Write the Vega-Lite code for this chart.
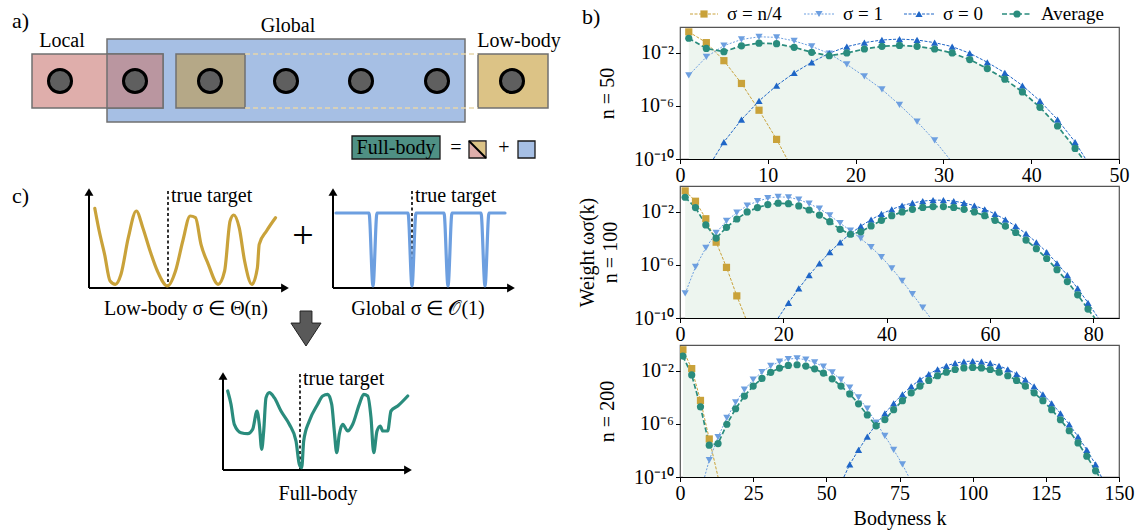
{
"$schema":"https://vega.github.io/schema/vega-lite/v6.json",
"padding":0,
"background":"white",
"spacing":27,
"bounds":"flush",
"config":{
 "font":"Liberation Serif",
 "view":{"stroke":"#555555","strokeWidth":1.2},
 "axis":{"labelFont":"Liberation Serif","titleFont":"Liberation Serif","labelFontSize":20,"titleFontSize":20,"titleFontWeight":"normal","labelColor":"#000","titleColor":"#000","tickColor":"#000","domainColor":"#000","grid":false,"tickSize":4.5,"labelPadding":2,"titleLineHeight":23},
 "text":{"font":"Liberation Serif"}
},
"datasets":{
 "p50":[
  {"s":"n4","k":1,"lw":-0.41,"m":1},{"s":"n4","k":3,"lw":-1.22,"m":1},{"s":"n4","k":5,"lw":-2.58,"m":1},{"s":"n4","k":7,"lw":-4.3,"m":1},{"s":"n4","k":9,"lw":-6.32,"m":1},{"s":"n4","k":11,"lw":-8.52,"m":1},{"s":"n4","k":12.2,"lw":-10,"m":0},
  {"s":"s1","k":1,"lw":-3.69,"m":1},{"s":"s1","k":3,"lw":-2.3,"m":1},{"s":"s1","k":5,"lw":-1.45,"m":1},{"s":"s1","k":7,"lw":-0.98,"m":1},{"s":"s1","k":9,"lw":-0.78,"m":1},{"s":"s1","k":11,"lw":-0.82,"m":1},{"s":"s1","k":13,"lw":-1.09,"m":1},{"s":"s1","k":15,"lw":-1.5,"m":1},{"s":"s1","k":17,"lw":-2.05,"m":1},{"s":"s1","k":19,"lw":-2.86,"m":1},{"s":"s1","k":21,"lw":-3.77,"m":1},{"s":"s1","k":23,"lw":-4.75,"m":1},{"s":"s1","k":25,"lw":-5.91,"m":1},{"s":"s1","k":27,"lw":-7.18,"m":1},{"s":"s1","k":29,"lw":-8.6,"m":1},{"s":"s1","k":30.7,"lw":-10,"m":0},
  {"s":"s0","k":3.8,"lw":-10,"m":0},{"s":"s0","k":5,"lw":-8.72,"m":1},{"s":"s0","k":7,"lw":-7.03,"m":1},{"s":"s0","k":9,"lw":-5.62,"m":1},{"s":"s0","k":11,"lw":-4.46,"m":1},{"s":"s0","k":13,"lw":-3.5,"m":1},{"s":"s0","k":15,"lw":-2.7,"m":1},{"s":"s0","k":17,"lw":-2.02,"m":1},{"s":"s0","k":19,"lw":-1.52,"m":1},{"s":"s0","k":21,"lw":-1.22,"m":1},{"s":"s0","k":23,"lw":-1.02,"m":1},{"s":"s0","k":25,"lw":-0.95,"m":1},{"s":"s0","k":27,"lw":-1.02,"m":1},{"s":"s0","k":29,"lw":-1.22,"m":1},{"s":"s0","k":31,"lw":-1.52,"m":1},{"s":"s0","k":33,"lw":-2.02,"m":1},{"s":"s0","k":35,"lw":-2.7,"m":1},{"s":"s0","k":37,"lw":-3.5,"m":1},{"s":"s0","k":39,"lw":-4.46,"m":1},{"s":"s0","k":41,"lw":-5.62,"m":1},{"s":"s0","k":43,"lw":-7.03,"m":1},{"s":"s0","k":45,"lw":-8.72,"m":1},{"s":"s0","k":46.2,"lw":-10,"m":0},
  {"s":"avg","k":1,"lw":-0.89,"m":1},{"s":"avg","k":3,"lw":-1.66,"m":1},{"s":"avg","k":5,"lw":-1.9,"m":1},{"s":"avg","k":7,"lw":-1.46,"m":1},{"s":"avg","k":9,"lw":-1.26,"m":1},{"s":"avg","k":11,"lw":-1.3,"m":1},{"s":"avg","k":13,"lw":-1.57,"m":1},{"s":"avg","k":15,"lw":-1.95,"m":1},{"s":"avg","k":17,"lw":-2.21,"m":1},{"s":"avg","k":19,"lw":-2.0,"m":1},{"s":"avg","k":21,"lw":-1.7,"m":1},{"s":"avg","k":23,"lw":-1.5,"m":1},{"s":"avg","k":25,"lw":-1.43,"m":1},{"s":"avg","k":27,"lw":-1.5,"m":1},{"s":"avg","k":29,"lw":-1.7,"m":1},{"s":"avg","k":31,"lw":-2.0,"m":1},{"s":"avg","k":33,"lw":-2.5,"m":1},{"s":"avg","k":35,"lw":-3.18,"m":1},{"s":"avg","k":37,"lw":-3.98,"m":1},{"s":"avg","k":39,"lw":-4.94,"m":1},{"s":"avg","k":41,"lw":-6.1,"m":1},{"s":"avg","k":43,"lw":-7.51,"m":1},{"s":"avg","k":45,"lw":-9.2,"m":1},{"s":"avg","k":45.9,"lw":-10,"m":0}
 ],
 "p100":[
  {"s":"n4","k":1,"lw":-0.41,"m":1},{"s":"n4","k":3,"lw":-1.19,"m":1},{"s":"n4","k":5,"lw":-2.51,"m":1},{"s":"n4","k":7,"lw":-4.28,"m":1},{"s":"n4","k":9,"lw":-6.18,"m":1},{"s":"n4","k":11,"lw":-8.33,"m":1},{"s":"n4","k":12.7,"lw":-10,"m":0},
  {"s":"s1","k":1,"lw":-8.15,"m":1},{"s":"s1","k":3,"lw":-6.15,"m":1},{"s":"s1","k":5,"lw":-4.71,"m":1},{"s":"s1","k":7,"lw":-3.57,"m":1},{"s":"s1","k":9,"lw":-2.68,"m":1},{"s":"s1","k":11,"lw":-2.05,"m":1},{"s":"s1","k":13,"lw":-1.52,"m":1},{"s":"s1","k":15,"lw":-1.19,"m":1},{"s":"s1","k":17,"lw":-0.96,"m":1},{"s":"s1","k":19,"lw":-0.86,"m":1},{"s":"s1","k":21,"lw":-0.89,"m":1},{"s":"s1","k":23,"lw":-1.06,"m":1},{"s":"s1","k":25,"lw":-1.37,"m":1},{"s":"s1","k":27,"lw":-1.75,"m":1},{"s":"s1","k":29,"lw":-2.25,"m":1},{"s":"s1","k":31,"lw":-2.85,"m":1},{"s":"s1","k":33,"lw":-3.4,"m":1},{"s":"s1","k":35,"lw":-4.0,"m":1},{"s":"s1","k":37,"lw":-4.65,"m":1},{"s":"s1","k":39,"lw":-5.4,"m":1},{"s":"s1","k":41,"lw":-6.25,"m":1},{"s":"s1","k":43,"lw":-7.2,"m":1},{"s":"s1","k":45,"lw":-8.2,"m":1},{"s":"s1","k":47,"lw":-9.22,"m":1},{"s":"s1","k":48.5,"lw":-10,"m":0},
  {"s":"s0","k":19,"lw":-10,"m":0},{"s":"s0","k":21,"lw":-8.85,"m":1},{"s":"s0","k":23,"lw":-7.77,"m":1},{"s":"s0","k":25,"lw":-6.77,"m":1},{"s":"s0","k":27,"lw":-5.87,"m":1},{"s":"s0","k":29,"lw":-5.03,"m":1},{"s":"s0","k":31,"lw":-4.29,"m":1},{"s":"s0","k":33,"lw":-3.64,"m":1},{"s":"s0","k":35,"lw":-3.07,"m":1},{"s":"s0","k":37,"lw":-2.58,"m":1},{"s":"s0","k":39,"lw":-2.15,"m":1},{"s":"s0","k":41,"lw":-1.8,"m":1},{"s":"s0","k":43,"lw":-1.52,"m":1},{"s":"s0","k":45,"lw":-1.32,"m":1},{"s":"s0","k":47,"lw":-1.18,"m":1},{"s":"s0","k":49,"lw":-1.11,"m":1},{"s":"s0","k":51,"lw":-1.11,"m":1},{"s":"s0","k":53,"lw":-1.18,"m":1},{"s":"s0","k":55,"lw":-1.32,"m":1},{"s":"s0","k":57,"lw":-1.52,"m":1},{"s":"s0","k":59,"lw":-1.8,"m":1},{"s":"s0","k":61,"lw":-2.15,"m":1},{"s":"s0","k":63,"lw":-2.58,"m":1},{"s":"s0","k":65,"lw":-3.07,"m":1},{"s":"s0","k":67,"lw":-3.64,"m":1},{"s":"s0","k":69,"lw":-4.29,"m":1},{"s":"s0","k":71,"lw":-5.03,"m":1},{"s":"s0","k":73,"lw":-5.87,"m":1},{"s":"s0","k":75,"lw":-6.77,"m":1},{"s":"s0","k":77,"lw":-7.77,"m":1},{"s":"s0","k":79,"lw":-8.85,"m":1},{"s":"s0","k":81,"lw":-10,"m":0},
  {"s":"avg","k":1,"lw":-0.89,"m":1},{"s":"avg","k":3,"lw":-1.67,"m":1},{"s":"avg","k":5,"lw":-2.98,"m":1},{"s":"avg","k":7,"lw":-3.97,"m":1},{"s":"avg","k":9,"lw":-3.16,"m":1},{"s":"avg","k":11,"lw":-2.53,"m":1},{"s":"avg","k":13,"lw":-2.0,"m":1},{"s":"avg","k":15,"lw":-1.67,"m":1},{"s":"avg","k":17,"lw":-1.44,"m":1},{"s":"avg","k":19,"lw":-1.34,"m":1},{"s":"avg","k":21,"lw":-1.37,"m":1},{"s":"avg","k":23,"lw":-1.54,"m":1},{"s":"avg","k":25,"lw":-1.85,"m":1},{"s":"avg","k":27,"lw":-2.23,"m":1},{"s":"avg","k":29,"lw":-2.73,"m":1},{"s":"avg","k":31,"lw":-3.31,"m":1},{"s":"avg","k":33,"lw":-3.68,"m":1},{"s":"avg","k":35,"lw":-3.5,"m":1},{"s":"avg","k":37,"lw":-3.05,"m":1},{"s":"avg","k":39,"lw":-2.63,"m":1},{"s":"avg","k":41,"lw":-2.28,"m":1},{"s":"avg","k":43,"lw":-2.0,"m":1},{"s":"avg","k":45,"lw":-1.8,"m":1},{"s":"avg","k":47,"lw":-1.66,"m":1},{"s":"avg","k":49,"lw":-1.59,"m":1},{"s":"avg","k":51,"lw":-1.59,"m":1},{"s":"avg","k":53,"lw":-1.66,"m":1},{"s":"avg","k":55,"lw":-1.8,"m":1},{"s":"avg","k":57,"lw":-2.0,"m":1},{"s":"avg","k":59,"lw":-2.28,"m":1},{"s":"avg","k":61,"lw":-2.63,"m":1},{"s":"avg","k":63,"lw":-3.06,"m":1},{"s":"avg","k":65,"lw":-3.55,"m":1},{"s":"avg","k":67,"lw":-4.12,"m":1},{"s":"avg","k":69,"lw":-4.77,"m":1},{"s":"avg","k":71,"lw":-5.51,"m":1},{"s":"avg","k":73,"lw":-6.35,"m":1},{"s":"avg","k":75,"lw":-7.25,"m":1},{"s":"avg","k":77,"lw":-8.25,"m":1},{"s":"avg","k":79,"lw":-9.33,"m":1},{"s":"avg","k":80.3,"lw":-10,"m":0}
 ],
 "p200":[
  {"s":"n4","k":1,"lw":-0.4,"m":1},{"s":"n4","k":4,"lw":-1.82,"m":1},{"s":"n4","k":7,"lw":-4.22,"m":1},{"s":"n4","k":10,"lw":-7.13,"m":1},{"s":"n4","k":13,"lw":-10,"m":0},
  {"s":"s1","k":8.4,"lw":-10,"m":0},{"s":"s1","k":10,"lw":-8.72,"m":1},{"s":"s1","k":13,"lw":-7.0,"m":1},{"s":"s1","k":16,"lw":-5.54,"m":1},{"s":"s1","k":19,"lw":-4.37,"m":1},{"s":"s1","k":22,"lw":-3.41,"m":1},{"s":"s1","k":25,"lw":-2.66,"m":1},{"s":"s1","k":28,"lw":-2.08,"m":1},{"s":"s1","k":31,"lw":-1.62,"m":1},{"s":"s1","k":34,"lw":-1.3,"m":1},{"s":"s1","k":37,"lw":-1.1,"m":1},{"s":"s1","k":40,"lw":-1.05,"m":1},{"s":"s1","k":43,"lw":-1.15,"m":1},{"s":"s1","k":46,"lw":-1.36,"m":1},{"s":"s1","k":49,"lw":-1.68,"m":1},{"s":"s1","k":52,"lw":-2.11,"m":1},{"s":"s1","k":55,"lw":-2.66,"m":1},{"s":"s1","k":58,"lw":-3.25,"m":1},{"s":"s1","k":61,"lw":-4.0,"m":1},{"s":"s1","k":64,"lw":-4.85,"m":1},{"s":"s1","k":67,"lw":-5.9,"m":1},{"s":"s1","k":70,"lw":-6.9,"m":1},{"s":"s1","k":73,"lw":-7.95,"m":1},{"s":"s1","k":76,"lw":-9.05,"m":1},{"s":"s1","k":78.2,"lw":-10,"m":0},
  {"s":"s0","k":56,"lw":-10,"m":0},{"s":"s0","k":58,"lw":-9.05,"m":1},{"s":"s0","k":61,"lw":-7.95,"m":1},{"s":"s0","k":64,"lw":-6.95,"m":1},{"s":"s0","k":67,"lw":-6.03,"m":1},{"s":"s0","k":70,"lw":-5.2,"m":1},{"s":"s0","k":73,"lw":-4.44,"m":1},{"s":"s0","k":76,"lw":-3.76,"m":1},{"s":"s0","k":79,"lw":-3.17,"m":1},{"s":"s0","k":82,"lw":-2.66,"m":1},{"s":"s0","k":85,"lw":-2.23,"m":1},{"s":"s0","k":88,"lw":-1.88,"m":1},{"s":"s0","k":91,"lw":-1.61,"m":1},{"s":"s0","k":94,"lw":-1.41,"m":1},{"s":"s0","k":97,"lw":-1.29,"m":1},{"s":"s0","k":100,"lw":-1.25,"m":1},{"s":"s0","k":103,"lw":-1.29,"m":1},{"s":"s0","k":106,"lw":-1.41,"m":1},{"s":"s0","k":109,"lw":-1.61,"m":1},{"s":"s0","k":112,"lw":-1.88,"m":1},{"s":"s0","k":115,"lw":-2.23,"m":1},{"s":"s0","k":118,"lw":-2.66,"m":1},{"s":"s0","k":121,"lw":-3.17,"m":1},{"s":"s0","k":124,"lw":-3.76,"m":1},{"s":"s0","k":127,"lw":-4.44,"m":1},{"s":"s0","k":130,"lw":-5.2,"m":1},{"s":"s0","k":133,"lw":-6.03,"m":1},{"s":"s0","k":136,"lw":-6.95,"m":1},{"s":"s0","k":139,"lw":-7.95,"m":1},{"s":"s0","k":142,"lw":-9.05,"m":1},{"s":"s0","k":144,"lw":-10,"m":0},
  {"s":"avg","k":1,"lw":-0.88,"m":1},{"s":"avg","k":4,"lw":-2.3,"m":1},{"s":"avg","k":7,"lw":-4.7,"m":1},{"s":"avg","k":10,"lw":-7.6,"m":1},{"s":"avg","k":13,"lw":-7.48,"m":1},{"s":"avg","k":16,"lw":-6.02,"m":1},{"s":"avg","k":19,"lw":-4.85,"m":1},{"s":"avg","k":22,"lw":-3.89,"m":1},{"s":"avg","k":25,"lw":-3.14,"m":1},{"s":"avg","k":28,"lw":-2.56,"m":1},{"s":"avg","k":31,"lw":-2.1,"m":1},{"s":"avg","k":34,"lw":-1.78,"m":1},{"s":"avg","k":37,"lw":-1.58,"m":1},{"s":"avg","k":40,"lw":-1.53,"m":1},{"s":"avg","k":43,"lw":-1.63,"m":1},{"s":"avg","k":46,"lw":-1.84,"m":1},{"s":"avg","k":49,"lw":-2.16,"m":1},{"s":"avg","k":52,"lw":-2.59,"m":1},{"s":"avg","k":55,"lw":-3.14,"m":1},{"s":"avg","k":58,"lw":-3.73,"m":1},{"s":"avg","k":61,"lw":-4.48,"m":1},{"s":"avg","k":64,"lw":-5.32,"m":1},{"s":"avg","k":67,"lw":-6.14,"m":1},{"s":"avg","k":70,"lw":-5.67,"m":1},{"s":"avg","k":73,"lw":-4.92,"m":1},{"s":"avg","k":76,"lw":-4.24,"m":1},{"s":"avg","k":79,"lw":-3.65,"m":1},{"s":"avg","k":82,"lw":-3.14,"m":1},{"s":"avg","k":85,"lw":-2.71,"m":1},{"s":"avg","k":88,"lw":-2.36,"m":1},{"s":"avg","k":91,"lw":-2.09,"m":1},{"s":"avg","k":94,"lw":-1.89,"m":1},{"s":"avg","k":97,"lw":-1.77,"m":1},{"s":"avg","k":100,"lw":-1.73,"m":1},{"s":"avg","k":103,"lw":-1.77,"m":1},{"s":"avg","k":106,"lw":-1.89,"m":1},{"s":"avg","k":109,"lw":-2.09,"m":1},{"s":"avg","k":112,"lw":-2.36,"m":1},{"s":"avg","k":115,"lw":-2.71,"m":1},{"s":"avg","k":118,"lw":-3.14,"m":1},{"s":"avg","k":121,"lw":-3.65,"m":1},{"s":"avg","k":124,"lw":-4.24,"m":1},{"s":"avg","k":127,"lw":-4.92,"m":1},{"s":"avg","k":130,"lw":-5.68,"m":1},{"s":"avg","k":133,"lw":-6.51,"m":1},{"s":"avg","k":136,"lw":-7.43,"m":1},{"s":"avg","k":139,"lw":-8.43,"m":1},{"s":"avg","k":142,"lw":-9.53,"m":1},{"s":"avg","k":143.4,"lw":-10,"m":0}
 ],
 "rects":[
  {"id":"global","grp":"a","x1":106,"y1":38,"x2":464,"y2":121},
  {"id":"local","grp":"a","x1":31,"y1":53,"x2":162,"y2":107},
  {"id":"overlap","grp":"a","x1":106,"y1":53,"x2":162,"y2":107},
  {"id":"lowin","grp":"a","x1":175,"y1":53,"x2":244,"y2":107},
  {"id":"low","grp":"a","x1":477,"y1":53,"x2":547,"y2":107},
  {"id":"full","grp":"b","x1":351,"y1":135,"x2":439,"y2":158},
  {"id":"icon","grp":"b","x1":468,"y1":140,"x2":485,"y2":157},
  {"id":"iconblue","grp":"b","x1":517,"y1":140,"x2":534,"y2":157}
 ],
 "atoms":[{"x":59,"y":80},{"x":134,"y":80},{"x":209,"y":80},{"x":285,"y":80},{"x":360,"y":80},{"x":436,"y":80},{"x":511,"y":80}],
 "segs":[
  {"kind":"dash","x1":244,"y1":53,"x2":477,"y2":53},
  {"kind":"dash","x1":244,"y1":107,"x2":477,"y2":107},
  {"kind":"axis","x1":88,"y1":287,"x2":281,"y2":287},
  {"kind":"axis","x1":88,"y1":287,"x2":88,"y2":194},
  {"kind":"axis","x1":332,"y1":287,"x2":507,"y2":287},
  {"kind":"axis","x1":332,"y1":287,"x2":332,"y2":194},
  {"kind":"axis","x1":222,"y1":469,"x2":404,"y2":469},
  {"kind":"axis","x1":222,"y1":469,"x2":222,"y2":378},
  {"kind":"target","x1":167,"y1":190,"x2":167,"y2":287},
  {"kind":"target","x1":411,"y1":190,"x2":411,"y2":287},
  {"kind":"target","x1":299,"y1":373,"x2":299,"y2":469},
  {"kind":"diag","x1":468,"y1":140,"x2":485,"y2":157}
 ],
 "heads":[
  {"dir":"up","x":88,"y":191},{"dir":"right","x":284,"y":287},
  {"dir":"up","x":332,"y":191},{"dir":"right","x":510,"y":287},
  {"dir":"up","x":222,"y":375},{"dir":"right","x":407,"y":469}
 ],
 "glyphs":[{"kind":"tri","x":476.5,"y":148.5},{"kind":"arrow","x":305,"y":327.5}],
 "curves":[
  {"c":"gold","i":0,"x":93.8,"y":207.3},{"c":"gold","i":1,"x":98.2,"y":230},{"c":"gold","i":2,"x":103.6,"y":253.3},{"c":"gold","i":3,"x":109.1,"y":280},{"c":"gold","i":4,"x":114.5,"y":283.3},{"c":"gold","i":5,"x":120,"y":273.3},{"c":"gold","i":6,"x":127.3,"y":236.7},{"c":"gold","i":7,"x":135.3,"y":210},{"c":"gold","i":8,"x":141.8,"y":226.7},{"c":"gold","i":9,"x":149.1,"y":250},{"c":"gold","i":10,"x":156.4,"y":270},{"c":"gold","i":11,"x":166.5,"y":285},{"c":"gold","i":12,"x":174.5,"y":270},{"c":"gold","i":13,"x":181.8,"y":240},{"c":"gold","i":14,"x":189.1,"y":215},{"c":"gold","i":15,"x":194.5,"y":216.7},{"c":"gold","i":16,"x":200,"y":243.3},{"c":"gold","i":17,"x":207.3,"y":263.3},{"c":"gold","i":18,"x":217.1,"y":283.3},{"c":"gold","i":19,"x":223.6,"y":270},{"c":"gold","i":20,"x":229.1,"y":220},{"c":"gold","i":21,"x":232.7,"y":214},{"c":"gold","i":22,"x":238.2,"y":226.7},{"c":"gold","i":23,"x":243.6,"y":260},{"c":"gold","i":24,"x":250.9,"y":283.3},{"c":"gold","i":25,"x":256.4,"y":266.7},{"c":"gold","i":26,"x":258.2,"y":243.3},{"c":"gold","i":27,"x":265.5,"y":230},{"c":"gold","i":28,"x":274.5,"y":216.7},
  {"c":"blue","i":0,"x":335,"y":212},{"c":"blue","i":1,"x":368,"y":212},{"c":"blue","i":2,"x":372,"y":285},{"c":"blue","i":3,"x":376,"y":212},{"c":"blue","i":4,"x":407,"y":212},{"c":"blue","i":5,"x":411,"y":285},{"c":"blue","i":6,"x":415,"y":212},{"c":"blue","i":7,"x":443,"y":212},{"c":"blue","i":8,"x":447,"y":285},{"c":"blue","i":9,"x":451,"y":212},{"c":"blue","i":10,"x":480,"y":212},{"c":"blue","i":11,"x":484,"y":285},{"c":"blue","i":12,"x":488,"y":212},{"c":"blue","i":13,"x":504,"y":212},
  {"c":"teal","i":0,"x":226.7,"y":390},{"c":"teal","i":1,"x":230,"y":403.3},{"c":"teal","i":2,"x":233.3,"y":423.3},{"c":"teal","i":3,"x":240,"y":431.7},{"c":"teal","i":4,"x":246.7,"y":432.7},{"c":"teal","i":5,"x":251.7,"y":428.3},{"c":"teal","i":6,"x":256,"y":410},{"c":"teal","i":7,"x":258.3,"y":423.3},{"c":"teal","i":8,"x":260.7,"y":448.3},{"c":"teal","i":9,"x":262.7,"y":430},{"c":"teal","i":10,"x":265,"y":396.7},{"c":"teal","i":11,"x":268.3,"y":391.7},{"c":"teal","i":12,"x":273.3,"y":396.7},{"c":"teal","i":13,"x":280,"y":410},{"c":"teal","i":14,"x":288.3,"y":423.3},{"c":"teal","i":15,"x":295,"y":440},{"c":"teal","i":16,"x":298.3,"y":463.3},{"c":"teal","i":17,"x":300.7,"y":466.7},{"c":"teal","i":18,"x":302.7,"y":440},{"c":"teal","i":19,"x":308.3,"y":420},{"c":"teal","i":20,"x":316.7,"y":403.3},{"c":"teal","i":21,"x":321.7,"y":395},{"c":"teal","i":22,"x":326.7,"y":393.3},{"c":"teal","i":23,"x":330.7,"y":403.3},{"c":"teal","i":24,"x":333.3,"y":430},{"c":"teal","i":25,"x":335.7,"y":451.7},{"c":"teal","i":26,"x":338.3,"y":433.3},{"c":"teal","i":27,"x":341.7,"y":423.3},{"c":"teal","i":28,"x":346.7,"y":430},{"c":"teal","i":29,"x":351.7,"y":423.3},{"c":"teal","i":30,"x":358.3,"y":403.3},{"c":"teal","i":31,"x":362.7,"y":393.3},{"c":"teal","i":32,"x":366.7,"y":395},{"c":"teal","i":33,"x":370,"y":416.7},{"c":"teal","i":34,"x":372.7,"y":451.7},{"c":"teal","i":35,"x":376,"y":430},{"c":"teal","i":36,"x":379.3,"y":425},{"c":"teal","i":37,"x":381.7,"y":430},{"c":"teal","i":38,"x":386.7,"y":430},{"c":"teal","i":39,"x":390,"y":410},{"c":"teal","i":40,"x":396.7,"y":405},{"c":"teal","i":41,"x":406.7,"y":395}
 ],
 "texts":[
  {"kind":"big","t":"a)","x":11,"y":20},
  {"kind":"big","t":"b)","x":581,"y":16},
  {"kind":"big","t":"c)","x":11,"y":195},
  {"kind":"lab","t":"Local","x":61,"y":40},
  {"kind":"lab","t":"Global","x":287,"y":25},
  {"kind":"lab","t":"Low-body","x":518,"y":40},
  {"kind":"lab","t":"Full-body","x":395,"y":147},
  {"kind":"lab","t":"Low-body  σ ∈ Θ(n)","x":185,"y":308},
  {"kind":"lab","t":"Global  σ ∈ 𝒪(1)","x":417,"y":308},
  {"kind":"lab","t":"Full-body","x":317,"y":493},
  {"kind":"tt","t":"true target","x":170,"y":195},
  {"kind":"tt","t":"true target","x":414,"y":195},
  {"kind":"tt","t":"true target","x":302,"y":378},
  {"kind":"op","t":"=","x":455,"y":147},
  {"kind":"op","t":"+","x":503,"y":147},
  {"kind":"plus","t":"+","x":302,"y":236}
 ],
 "leg":[
  {"s":"n4","x1":689,"x2":717,"xm":703,"xt":726,"y":13,"t":"σ = n/4"},
  {"s":"s1","x1":803,"x2":833,"xm":818,"xt":842,"y":13,"t":"σ = 1"},
  {"s":"s0","x1":903,"x2":933,"xm":918,"xt":942,"y":13,"t":"σ = 0"},
  {"s":"avg","x1":1001,"x2":1031,"xm":1016,"xt":1040,"y":13,"t":"Average"}
 ]
},
"vconcat":[
 {
  "width":439,"height":132,
  "resolve":{"scale":{"x":"independent","y":"independent"},"axis":{"x":"independent","y":"independent"}},
  "layer":[
   {
    "layer":[
     {"data":{"values":[{"x1":0,"y1":0,"x2":1137,"y2":530}]},"mark":{"type":"rect","fill":"transparent","strokeWidth":0},
      "encoding":{"x":{"field":"x1","type":"quantitative","scale":{"domain":[679,1118],"nice":false,"zero":false},"axis":null},"x2":{"field":"x2"},"y":{"field":"y1","type":"quantitative","scale":{"domain":[158,26],"nice":false,"zero":false},"axis":null},"y2":{"field":"y2"}}},
     {"data":{"name":"rects"},"transform":[{"filter":"datum.grp == 'a'"}],"mark":{"type":"rect","stroke":"#707070","strokeWidth":1.5},
      "encoding":{"x":{"field":"x1","type":"quantitative"},"x2":{"field":"x2"},"y":{"field":"y1","type":"quantitative"},"y2":{"field":"y2"},
       "fill":{"field":"id","type":"nominal","scale":{"domain":["global","local","overlap","lowin","low","full","icon","iconblue"],"range":["#a6bfe4","#dfaeab","#ba96a0","#b5a887","#dcc386","#4f9084","#dfaeab","#a6bfe4"]},"legend":null}}},
     {"data":{"name":"rects"},"transform":[{"filter":"datum.grp == 'b'"}],"mark":{"type":"rect","stroke":"#1a1a1a","strokeWidth":1.3},
      "encoding":{"x":{"field":"x1","type":"quantitative"},"x2":{"field":"x2"},"y":{"field":"y1","type":"quantitative"},"y2":{"field":"y2"},
       "fill":{"field":"id","type":"nominal","legend":null}}},
     {"data":{"name":"glyphs"},"transform":[{"filter":"datum.kind == 'tri'"}],"mark":{"type":"point","shape":"M -1 -1 L 1 -1 L 1 1 Z","filled":true,"fill":"#dcc386","strokeWidth":0,"size":240,"opacity":1},
      "encoding":{"x":{"field":"x","type":"quantitative"},"y":{"field":"y","type":"quantitative"}}},
     {"data":{"name":"segs"},"transform":[{"filter":"datum.kind == 'diag'"}],"mark":{"type":"rule","color":"#000","strokeWidth":2},
      "encoding":{"x":{"field":"x1","type":"quantitative"},"x2":{"field":"x2"},"y":{"field":"y1","type":"quantitative"},"y2":{"field":"y2"}}},
     {"data":{"name":"segs"},"transform":[{"filter":"datum.kind == 'dash'"}],"mark":{"type":"rule","color":"#e6d6aa","strokeWidth":1.5,"strokeDash":[5,3]},
      "encoding":{"x":{"field":"x1","type":"quantitative"},"x2":{"field":"x2"},"y":{"field":"y1","type":"quantitative"},"y2":{"field":"y2"}}},
     {"data":{"name":"atoms"},"mark":{"type":"circle","fill":"#5f5f5f","stroke":"#000","strokeWidth":3,"size":530,"opacity":1},
      "encoding":{"x":{"field":"x","type":"quantitative"},"y":{"field":"y","type":"quantitative"}}},
     {"data":{"name":"segs"},"transform":[{"filter":"datum.kind == 'axis'"}],"mark":{"type":"rule","color":"#000","strokeWidth":2},
      "encoding":{"x":{"field":"x1","type":"quantitative"},"x2":{"field":"x2"},"y":{"field":"y1","type":"quantitative"},"y2":{"field":"y2"}}},
     {"data":{"name":"heads"},"transform":[{"filter":"datum.dir == 'up'"}],"mark":{"type":"point","shape":"triangle-up","filled":true,"color":"#000","size":80,"opacity":1},
      "encoding":{"x":{"field":"x","type":"quantitative"},"y":{"field":"y","type":"quantitative"}}},
     {"data":{"name":"heads"},"transform":[{"filter":"datum.dir == 'right'"}],"mark":{"type":"point","shape":"triangle-right","filled":true,"color":"#000","size":80,"opacity":1},
      "encoding":{"x":{"field":"x","type":"quantitative"},"y":{"field":"y","type":"quantitative"}}},
     {"data":{"name":"segs"},"transform":[{"filter":"datum.kind == 'target'"}],"mark":{"type":"rule","color":"#000","strokeWidth":1.6,"strokeDash":[3,2.5]},
      "encoding":{"x":{"field":"x1","type":"quantitative"},"x2":{"field":"x2"},"y":{"field":"y1","type":"quantitative"},"y2":{"field":"y2"}}},
     {"data":{"name":"curves"},"mark":{"type":"line","strokeWidth":3.2,"interpolate":"monotone","strokeCap":"round","strokeJoin":"round"},
      "encoding":{"x":{"field":"x","type":"quantitative"},"y":{"field":"y","type":"quantitative"},"order":{"field":"i","type":"quantitative"},
       "stroke":{"field":"c","type":"nominal","scale":{"domain":["gold","blue","teal"],"range":["#c9a23a","#6d9fe0","#2a8c7d"]},"legend":null}}},
     {"data":{"name":"glyphs"},"transform":[{"filter":"datum.kind == 'arrow'"}],"mark":{"type":"point","shape":"M -0.34 -1 L 0.34 -1 L 0.34 -0.31 L 0.86 -0.31 L 0 1 L -0.86 -0.31 L -0.34 -0.31 Z","filled":true,"fill":"#595959","stroke":"#222","strokeWidth":1,"size":1225,"opacity":1},
      "encoding":{"x":{"field":"x","type":"quantitative"},"y":{"field":"y","type":"quantitative"}}},
     {"data":{"name":"texts"},"transform":[{"filter":"datum.kind == 'big'"}],"mark":{"type":"text","fontSize":22,"align":"left","baseline":"middle","color":"#000"},
      "encoding":{"x":{"field":"x","type":"quantitative"},"y":{"field":"y","type":"quantitative"},"text":{"field":"t"}}},
     {"data":{"name":"texts"},"transform":[{"filter":"datum.kind == 'lab'"}],"mark":{"type":"text","fontSize":20,"align":"center","baseline":"middle","color":"#000"},
      "encoding":{"x":{"field":"x","type":"quantitative"},"y":{"field":"y","type":"quantitative"},"text":{"field":"t"}}},
     {"data":{"name":"texts"},"transform":[{"filter":"datum.kind == 'tt'"}],"mark":{"type":"text","fontSize":20,"align":"left","baseline":"middle","color":"#000"},
      "encoding":{"x":{"field":"x","type":"quantitative"},"y":{"field":"y","type":"quantitative"},"text":{"field":"t"}}},
     {"data":{"name":"texts"},"transform":[{"filter":"datum.kind == 'op'"}],"mark":{"type":"text","fontSize":20,"align":"center","baseline":"middle","color":"#000"},
      "encoding":{"x":{"field":"x","type":"quantitative"},"y":{"field":"y","type":"quantitative"},"text":{"field":"t"}}},
     {"data":{"name":"texts"},"transform":[{"filter":"datum.kind == 'plus'"}],"mark":{"type":"text","fontSize":38,"align":"center","baseline":"middle","color":"#000"},
      "encoding":{"x":{"field":"x","type":"quantitative"},"y":{"field":"y","type":"quantitative"},"text":{"field":"t"}}},
     {"data":{"name":"leg"},"transform":[{"filter":"datum.s != 'avg'"}],"mark":{"type":"rule","strokeWidth":1},
      "encoding":{"x":{"field":"x1","type":"quantitative"},"x2":{"field":"x2"},"y":{"field":"y","type":"quantitative"},
       "color":{"field":"s","type":"nominal","scale":{"domain":["n4","s1","s0","avg"],"range":["#c9a23a","#6d9fe0","#1f66c7","#2a8c7d"]},"legend":null},
       "strokeDash":{"field":"s","type":"nominal","scale":{"domain":["n4","s1","s0","avg"],"range":[[3,1.5],[2,1.5],[3,1.5],[5,2.5]]},"legend":null}}},
     {"data":{"name":"leg"},"transform":[{"filter":"datum.s == 'avg'"}],"mark":{"type":"rule","strokeWidth":1.7,"color":"#2a8c7d","strokeDash":[5,2.5]},
      "encoding":{"x":{"field":"x1","type":"quantitative"},"x2":{"field":"x2"},"y":{"field":"y","type":"quantitative"}}},
     {"data":{"name":"leg"},"mark":{"type":"point","filled":true,"opacity":1,"size":52},
      "encoding":{"x":{"field":"xm","type":"quantitative"},"y":{"field":"y","type":"quantitative"},
       "color":{"field":"s","type":"nominal","legend":null},
       "shape":{"field":"s","type":"nominal","scale":{"domain":["n4","s1","s0","avg"],"range":["square","triangle-down","triangle-up","circle"]},"legend":null}}},
     {"data":{"name":"leg"},"mark":{"type":"text","fontSize":19,"align":"left","baseline":"middle","color":"#000"},
      "encoding":{"x":{"field":"xt","type":"quantitative"},"y":{"field":"y","type":"quantitative"},"text":{"field":"t"}}}
    ]
   },
   {
    "data":{"name":"p50"},
    "encoding":{
     "x":{"field":"k","type":"quantitative","scale":{"domain":[0,50],"nice":false,"zero":false},"axis":{"orient":"bottom","values":[0,10,20,30,40,50],"title":null,"labelFlush":false}},
     "y":{"field":"lw","type":"quantitative","scale":{"domain":[-10,-0.04],"nice":false,"zero":false},"axis":{"orient":"left","values":[-10,-6,-2],"labelExpr":"datum.value == -2 ? '10⁻²' : datum.value == -6 ? '10⁻⁶' : '10⁻¹⁰'","title":"n = 50","titleX":-73,"titleY":66,"titleAngle":-90,"titleAlign":"center","titleBaseline":"middle","domain":false}}
    },
    "layer":[
     {"transform":[{"filter":"datum.s == 'avg'"}],"mark":{"type":"area","color":"#edf5ef","clip":true},"encoding":{"y2":{"datum":-10}}},
     {"transform":[{"filter":"datum.s != 'avg'"}],"mark":{"type":"line","strokeWidth":1,"clip":true},
      "encoding":{"color":{"field":"s","type":"nominal","legend":null},"strokeDash":{"field":"s","type":"nominal","legend":null},"order":{"field":"k","type":"quantitative"}}},
     {"transform":[{"filter":"datum.s == 'avg'"}],"mark":{"type":"line","strokeWidth":1.7,"clip":true,"color":"#2a8c7d","strokeDash":[5,2.5]},"encoding":{"order":{"field":"k","type":"quantitative"}}},
     {"transform":[{"filter":"datum.m == 1"}],"mark":{"type":"point","filled":true,"opacity":1,"size":52,"clip":true},
      "encoding":{"color":{"field":"s","type":"nominal","legend":null},"shape":{"field":"s","type":"nominal","legend":null}}}
    ]
   }
  ]
 },
 {
  "width":439,"height":132,
  "data":{"name":"p100"},
  "encoding":{
   "x":{"field":"k","type":"quantitative","scale":{"domain":[0,85],"nice":false,"zero":false},"axis":{"values":[0,20,40,60,80],"title":null,"labelFlush":false}},
   "y":{"field":"lw","type":"quantitative","scale":{"domain":[-10,-0.04],"nice":false,"zero":false},"axis":{"values":[-10,-6,-2],"labelExpr":"datum.value == -2 ? '10⁻²' : datum.value == -6 ? '10⁻⁶' : '10⁻¹⁰'","title":["Weight ωσ(k)","n = 100"],"titleX":-93,"titleY":66,"titleAngle":-90,"titleAlign":"center","titleBaseline":"middle","domain":false}}
  },
  "layer":[
   {"transform":[{"filter":"datum.s == 'avg'"}],"mark":{"type":"area","color":"#edf5ef","clip":true},"encoding":{"y2":{"datum":-10}}},
   {"transform":[{"filter":"datum.s != 'avg'"}],"mark":{"type":"line","strokeWidth":1,"clip":true},
    "encoding":{"color":{"field":"s","type":"nominal","scale":{"domain":["n4","s1","s0","avg"],"range":["#c9a23a","#6d9fe0","#1f66c7","#2a8c7d"]},"legend":null},"strokeDash":{"field":"s","type":"nominal","scale":{"domain":["n4","s1","s0","avg"],"range":[[3,1.5],[2,1.5],[3,1.5],[5,2.5]]},"legend":null},"order":{"field":"k","type":"quantitative"}}},
   {"transform":[{"filter":"datum.s == 'avg'"}],"mark":{"type":"line","strokeWidth":1.7,"clip":true,"color":"#2a8c7d","strokeDash":[5,2.5]},"encoding":{"order":{"field":"k","type":"quantitative"}}},
   {"transform":[{"filter":"datum.m == 1"}],"mark":{"type":"point","filled":true,"opacity":1,"size":52,"clip":true},
    "encoding":{"color":{"field":"s","type":"nominal","legend":null},"shape":{"field":"s","type":"nominal","scale":{"domain":["n4","s1","s0","avg"],"range":["square","triangle-down","triangle-up","circle"]},"legend":null}}}
  ]
 },
 {
  "width":439,"height":132,
  "data":{"name":"p200"},
  "encoding":{
   "x":{"field":"k","type":"quantitative","scale":{"domain":[0,150],"nice":false,"zero":false},"axis":{"values":[0,25,50,75,100,125,150],"title":"Bodyness k","titlePadding":5,"labelFlush":false}},
   "y":{"field":"lw","type":"quantitative","scale":{"domain":[-10,-0.04],"nice":false,"zero":false},"axis":{"values":[-10,-6,-2],"labelExpr":"datum.value == -2 ? '10⁻²' : datum.value == -6 ? '10⁻⁶' : '10⁻¹⁰'","title":"n = 200","titleX":-73,"titleY":66,"titleAngle":-90,"titleAlign":"center","titleBaseline":"middle","domain":false}}
  },
  "layer":[
   {"transform":[{"filter":"datum.s == 'avg'"}],"mark":{"type":"area","color":"#edf5ef","clip":true},"encoding":{"y2":{"datum":-10}}},
   {"transform":[{"filter":"datum.s != 'avg'"}],"mark":{"type":"line","strokeWidth":1,"clip":true},
    "encoding":{"color":{"field":"s","type":"nominal","scale":{"domain":["n4","s1","s0","avg"],"range":["#c9a23a","#6d9fe0","#1f66c7","#2a8c7d"]},"legend":null},"strokeDash":{"field":"s","type":"nominal","scale":{"domain":["n4","s1","s0","avg"],"range":[[3,1.5],[2,1.5],[3,1.5],[5,2.5]]},"legend":null},"order":{"field":"k","type":"quantitative"}}},
   {"transform":[{"filter":"datum.s == 'avg'"}],"mark":{"type":"line","strokeWidth":1.7,"clip":true,"color":"#2a8c7d","strokeDash":[5,2.5]},"encoding":{"order":{"field":"k","type":"quantitative"}}},
   {"transform":[{"filter":"datum.m == 1"}],"mark":{"type":"point","filled":true,"opacity":1,"size":52,"clip":true},
    "encoding":{"color":{"field":"s","type":"nominal","legend":null},"shape":{"field":"s","type":"nominal","scale":{"domain":["n4","s1","s0","avg"],"range":["square","triangle-down","triangle-up","circle"]},"legend":null}}}
  ]
 }
]
}
